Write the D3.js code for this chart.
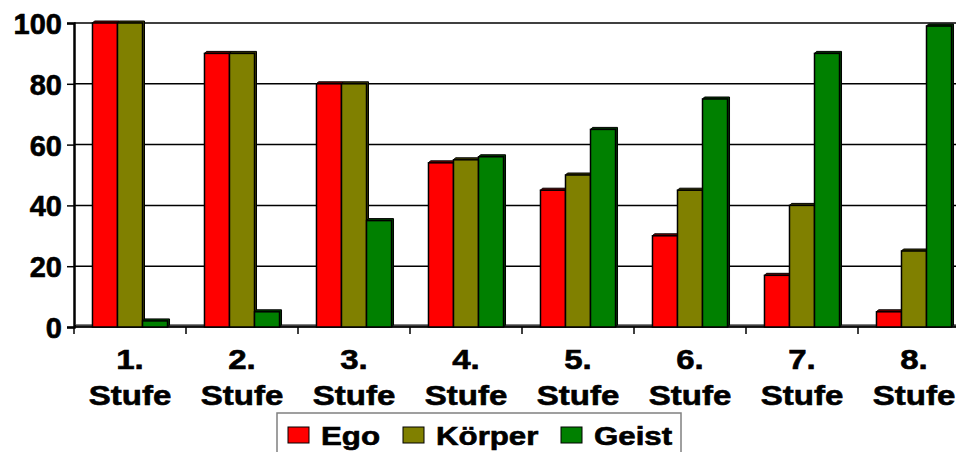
<!DOCTYPE html>
<html>
<head>
<meta charset="utf-8">
<script src="https://cdn.jsdelivr.net/npm/d3@7"></script>
<style>
	html, body { margin: 0; padding: 0; background: #fff; }
	#chart { width: 956px; height: 452px; overflow: hidden; }
	text { font-family: "Liberation Sans", Arial, sans-serif; font-weight: bold; fill: #000; stroke: #000; stroke-width: 0.6px; }
</style>
</head>
<body>
<div id="chart"></div>
<script>
var categories = ["1.", "2.", "3.", "4.", "5.", "6.", "7.", "8."];
var categoryWord = "Stufe";
var seriesNames = ["Ego", "Körper", "Geist"];
var ego = [100, 90, 80, 54, 45, 30, 17, 5];
var koerper = [100, 90, 80, 55, 50, 45, 40, 25];
var geist = [2, 5, 35, 56, 65, 75, 90, 99];
var yTicks = [0, 20, 40, 60, 80, 100];

var colors = ["#ff0000", "#808000", "#008000"];
var darkColors = ["#7a0000", "#3c3c00", "#003c00"];

var width = 956, height = 452;
var margin = {top: 23, left: 74, bottom: 125};
var plotRight = 970; // plot area runs past the right edge of the picture
var depth = 2;

var seriesValues = [ego, koerper, geist];
var data = categories.map(function(c, i) {
	return {
		cat: c,
		values: seriesNames.map(function(name, j) { return {name: name, idx: j, value: seriesValues[j][i]}; })
	};
});

var svg = d3.select("#chart").append("svg")
		.attr("width", width)
		.attr("height", height);

var xScale = d3.scaleBand()
		.domain(categories)
		.range([margin.left, plotRight])
		.paddingInner(0.33)
		.paddingOuter(0.165);

var xSub = d3.scaleBand()
		.domain(seriesNames)
		.range([0, xScale.bandwidth()]);

var yScale = d3.scaleLinear()
		.domain([0, 100])
		.range([height - margin.bottom, margin.top]);

var y0 = yScale(0);
var step = xScale.step();

// Gridlines
svg.append("g").attr("class", "grid")
	.selectAll("line")
	.data(yTicks.filter(function(d) { return d > 0; }))
	.enter().append("line")
		.attr("x1", margin.left)
		.attr("x2", width)
		.attr("y1", function(d) { return yScale(d); })
		.attr("y2", function(d) { return yScale(d); })
		.style("stroke", "#000")
		.style("stroke-width", 1.5);

// Floor
svg.append("path")
		.attr("d", "M" + margin.left + "," + y0 + "L" + (margin.left + depth) + "," + (y0 - depth) +
			"L" + (plotRight + depth) + "," + (y0 - depth) + "L" + plotRight + "," + y0 + "Z")
		.style("fill", "#808080")
		.style("stroke", "#000")
		.style("stroke-width", 1);

// Y axis
var yAxis = d3.axisLeft(yScale).tickValues(yTicks).tickSize(7).tickPadding(5);
var yG = svg.append("g")
		.attr("transform", "translate(" + margin.left + ",0)")
		.call(yAxis);
yG.select(".domain").style("stroke", "#000").style("stroke-width", 2.5);
yG.selectAll(".tick line").style("stroke", "#000").style("stroke-width", 1.5);
yG.selectAll(".tick text")
		.style("font-size", "29px")
		.style("font-family", "'Liberation Sans', Arial, sans-serif")
		.style("font-weight", "bold")
		.attr("dy", "0.36em");

// X axis line and ticks between groups
var boundaries = d3.range(categories.length + 1).map(function(i) { return margin.left + i * step; });
svg.append("line")
		.attr("x1", margin.left).attr("x2", width)
		.attr("y1", y0).attr("y2", y0)
		.style("stroke", "#000")
		.style("stroke-width", 1.5);
svg.append("g").selectAll("line")
	.data(boundaries)
	.enter().append("line")
		.attr("x1", function(d) { return d; })
		.attr("x2", function(d) { return d; })
		.attr("y1", y0)
		.attr("y2", y0 + 7)
		.style("stroke", "#000")
		.style("stroke-width", 1.5);

// Bars
var group = svg.append("g").attr("class", "bars")
	.selectAll(".group")
	.data(data)
	.enter().append("g")
		.attr("class", "group")
		.attr("transform", function(d) { return "translate(" + xScale(d.cat) + ",0)"; });

var bar = group.selectAll(".bar")
	.data(function(d) { return d.values; })
	.enter().append("g")
		.attr("class", "bar");

bar.append("path")
		.attr("d", function(d) {
			var x0 = xSub(d.name), x1 = x0 + xSub.bandwidth(), top = yScale(d.value);
			return "M" + x0 + "," + top + "L" + (x0 + depth) + "," + (top - depth) +
				"L" + (x1 + depth) + "," + (top - depth) + "L" + (x1 + depth) + "," + (y0 - depth) +
				"L" + x1 + "," + y0 + "Z";
		})
		.style("fill", function(d) { return darkColors[d.idx]; })
		.style("stroke", "#000")
		.style("stroke-width", 1);

bar.append("rect")
		.attr("x", function(d) { return xSub(d.name); })
		.attr("y", function(d) { return yScale(d.value); })
		.attr("width", xSub.bandwidth())
		.attr("height", function(d) { return y0 - yScale(d.value); })
		.style("fill", function(d) { return colors[d.idx]; })
		.style("stroke", "#000")
		.style("stroke-width", 1.5);

// Category labels
var labels = svg.append("g").attr("class", "x-labels")
	.selectAll("g")
	.data(categories)
	.enter().append("g")
		.attr("transform", function(d) { return "translate(" + (xScale(d) + xScale.bandwidth() / 2) + ",0) scale(1.18,1)"; });

labels.append("text")
		.attr("y", 369)
		.attr("text-anchor", "middle")
		.style("font-size", "28px")
		.text(function(d) { return d; });

labels.append("text")
		.attr("y", 405)
		.attr("text-anchor", "middle")
		.style("font-size", "28px")
		.text(categoryWord);

// Legend
var legend = svg.append("g").attr("class", "legend");
legend.append("rect")
		.attr("x", 277)
		.attr("y", 413)
		.attr("width", 404)
		.attr("height", 60)
		.style("fill", "#fff")
		.style("stroke", "#808080")
		.style("stroke-width", 1.5);

var legendX = [288, 403, 561];
var legendItem = legend.selectAll(".legend-item")
	.data(seriesNames)
	.enter().append("g")
		.attr("class", "legend-item")
		.attr("transform", function(d, i) { return "translate(" + legendX[i] + ",427)"; });

legendItem.append("rect")
		.attr("width", 21)
		.attr("height", 16)
		.style("fill", function(d, i) { return colors[i]; })
		.style("stroke", "#000")
		.style("stroke-width", 1);

legendItem.append("text")
		.attr("transform", "translate(33,18) scale(1.25,1)")
		.style("font-size", "25px")
		.text(function(d) { return d; });
</script>
</body>
</html>
